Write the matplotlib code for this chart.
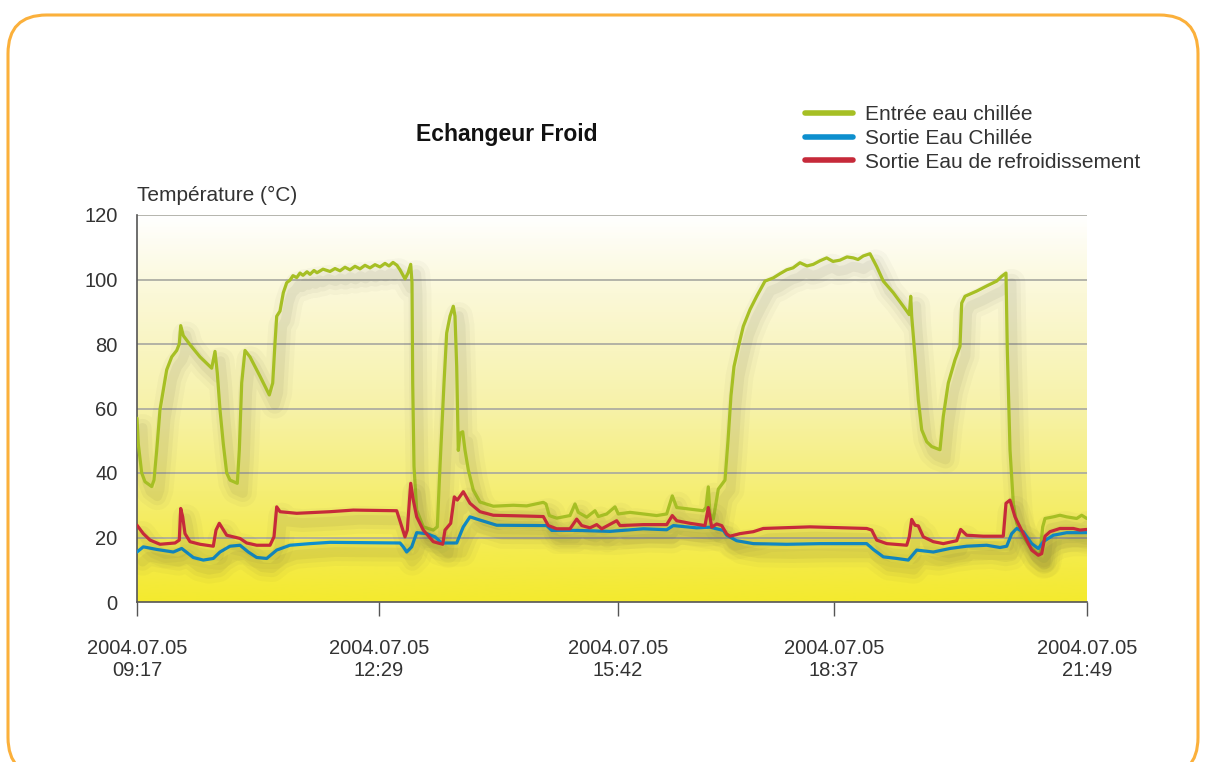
import matplotlib
matplotlib.use("Agg")
import matplotlib.pyplot as plt
import numpy as np
from matplotlib.colors import LinearSegmentedColormap
from matplotlib.patches import FancyBboxPatch
from matplotlib import patheffects as pe

plt.rcParams["font.family"] = ["Liberation Sans", "DejaVu Sans"]

# x positions are sample positions along the time axis (0 = 09:17, 950 = 21:49)
tick_pos = [0, 242, 481, 697, 950]
tick_labels = ["2004.07.05\n09:17", "2004.07.05\n12:29", "2004.07.05\n15:42",
               "2004.07.05\n18:37", "2004.07.05\n21:49"]

entree_x = [0, 1.3, 4.7, 8, 14.7, 17, 19.7, 23, 26.3, 29.7, 34.7, 39.7, 42.3, 43.7,
            46.3, 53, 63, 74.7, 78, 80.3, 83, 86.3, 89.7, 93, 100.3, 102.3, 104.7,
            108, 113, 123, 132.3, 135.7, 138, 139.7, 143, 146.3, 149.7, 153, 156,
            159.7, 163, 166, 170, 173, 177, 180, 186, 193, 198, 203, 208, 213, 218,
            223, 228, 233, 238, 243, 248, 252, 256, 260, 263, 268, 271, 273.7, 275,
            275.7, 277, 279.7, 286.3, 296.3, 300.3, 303, 307, 309.7, 313, 316.3, 318,
            319.7, 321.3, 323, 325.7, 328, 331.3, 336.3, 343, 356.3, 376.3, 389.7,
            406.3, 409, 412.3, 419.7, 433, 438, 441.3, 449.7, 458, 461.3, 469.7, 478,
            481.3, 493, 506.3, 519.7, 529.7, 535.3, 539.7, 553, 566.3, 569, 571.3,
            573, 576.3, 581.3, 588, 591, 594, 597, 601.3, 606.3, 613, 619.7, 628,
            636.3, 643, 649.7, 656, 663, 670, 676.3, 683, 689.7, 696, 703, 710, 716.3,
            721, 726.3, 733, 739.7, 746.3, 756.3, 766.3, 772.3, 773.7, 774.7, 778,
            781.3, 784.7, 789.7, 794.7, 803, 806.3, 811.3, 818, 823, 824.7, 828,
            839.7, 849.7, 859.7, 864.7, 869, 870.3, 873, 876.3, 879.7, 886.3, 893,
            899.7, 903, 905.7, 908, 916.3, 923, 929.7, 939.7, 944.7, 949.7]
entree_y = [57, 49, 40, 37.3, 35.8, 37.8, 47, 59.6, 65.8, 72, 76, 78, 80, 85.7,
            82.6, 79.8, 76, 72.5, 77.7, 71, 59.6, 49, 40, 37.8, 36.8, 47, 67.9,
            78, 76, 70, 64.2, 67.9, 80.3, 88.6, 90.2, 95.9, 99, 99.8, 101.2,
            100.6, 102, 101.3, 102.4, 101.6, 102.8, 102.1, 103.2, 102.5, 103.4,
            102.7, 103.8, 103, 104.1, 103.3, 104.4, 103.6, 104.6, 103.9, 105, 104.2,
            105.3, 104.4, 103, 100.2, 102, 104.7, 99,
            67.9, 42, 28.5, 23.3, 22.3, 23.3, 42, 67.9, 83.4, 88.6, 91.7, 88.6,
            73, 47, 52.3, 52.8, 47.1, 41, 34.7, 31, 29.7, 30, 29.8,
            30.9, 30.4, 26.8, 26, 26.8, 30.4, 27.8, 26.3, 28.3, 26.5, 27.3, 29.5,
            27.3, 27.8, 27.3, 26.8, 27.3, 32.9, 29.3, 28.8, 28.3, 29.3, 35.7,
            27.3, 25.7, 35, 37.8, 50, 64, 73, 79, 85.5, 90.7, 94.8, 99.5,
            100.5, 101.8, 103, 103.6, 105.2, 104.2, 104.7, 105.8, 106.7, 105.6, 106, 107, 106.7,
            106.2, 107.3, 108, 104, 99.5, 95.9, 91.7, 89.1, 94.8, 88.6, 76.2,
            62.7, 53.4, 49.7, 48.2, 47.2, 57.5, 67.9, 75.1, 79.3, 92.7, 94.8,
            96.4, 98, 99.5, 101, 102, 78.2, 47.2, 30.6, 24.4, 20.2, 17.1,
            15, 14.8, 23.3, 25.9, 26.4, 26.9, 26.4, 25.9, 26.9, 25.9]

sortie_x = [0, 6.3, 19.7, 36.3, 44.7, 56.3, 66.3, 76.3, 83, 93, 103, 111.3, 119.7,
            129.7, 139.7, 153, 173, 193, 263, 266.3, 269.7, 274.7, 279.7, 289.7, 298,
            304.7, 319.7, 326.3, 333, 343, 359.7, 409.7, 414.7, 439.7, 473, 506.3,
            529.7, 536.3, 559.7, 573, 586.3, 589.7, 599.7, 616.3, 649.7, 683, 729.7,
            736.3, 746.3, 759.7, 771.3, 779.7, 796.3, 813, 829.7, 849.7, 863, 869.7,
            874.7, 879.7, 886.3, 894.7, 901.3, 906.3, 916.3, 929.7, 949.7]
sortie_y = [15.5, 17.1, 16.3, 15.5, 16.6, 13.8, 13, 13.5, 15.5, 17.3, 17.6, 15.5, 13.8,
            13.5, 16.1, 17.6, 18.1, 18.5, 18.3, 17.1, 15.5, 17.1, 21.5, 21.2, 20.2,
            18.3, 18.3, 23.3, 26.4, 25.4, 23.8, 23.7, 22.2, 22.2, 21.9, 22.7,
            22.4, 23.7, 23, 23.2, 22.2, 20.7, 19, 18.1, 17.9, 18.1, 18.1,
            16.3, 14, 13.5, 13, 16.1, 15.5, 16.6, 17.3, 17.6, 16.9, 17.3,
            21.2, 22.8, 21.8, 18.1, 16.6, 18.7, 20.7, 21.5, 21.5]

refroid_x = [0, 6.3, 13, 23, 38, 42.3, 43.7, 45.7, 48, 53, 63, 76.3, 79, 82.3, 89.7,
             103, 109.7, 119.7, 133, 137, 139.7, 143, 159.7, 193, 216.3, 259.7, 263.7,
             268, 270.3, 273.7, 276.3, 279.7, 286.3, 296.3, 305.7, 308, 313.7, 317.3,
             320.3, 326.3, 333, 343, 356.3, 383, 406.3, 411.3, 419.7, 433, 439.7,
             444.7, 453, 459.7, 464.7, 479.7, 483, 506.3, 529.7, 535.3, 539.7, 553,
             568, 571.3, 574.7, 579.7, 584.7, 589.7, 593, 603, 616.3, 626.3, 673,
             729.7, 734.7, 739.7, 749.7, 769.7, 772.3, 774.7, 778, 781.3, 786.3, 796.3,
             806.3, 819.7, 823.7, 829.7, 846.3, 866.3, 869, 873, 878, 886.3, 894.7,
             901.3, 904.7, 908, 913, 923, 936.3, 943, 949.7]
refroid_y = [23.8, 21.2, 19.2, 17.9, 18.3, 19.2, 29, 26.4, 21.2, 18.7, 17.9, 17.3, 22.3,
             24.4, 20.7, 19.7, 18.3, 17.6, 17.6, 20.2, 29.5, 28, 27.5, 28, 28.5, 28.3,
             24.4, 20.2, 22.3, 36.8, 31.6, 26.4, 22.3, 18.7, 17.9, 22.3, 24.4, 32.6,
             31.6, 34.2, 30.6, 28, 26.9, 26.7, 26.5, 23.7, 22.7, 22.7, 25.7, 23.7,
             23, 24, 22.7, 25.2, 23.7, 24, 24, 26.8, 25.2, 24.4, 23.7, 29.3, 23.2,
             24.2, 23.7, 21.1, 20.4, 21.2, 21.8, 22.8, 23.3, 22.8, 22.3, 19.2, 18.1,
             17.6, 20.2, 25.6, 23.8, 23.6, 20.2, 18.7, 18.1, 19, 22.5, 20.7, 20.4,
             20.4, 30.6, 31.6, 26.4, 21.2, 16.1, 14.5, 15, 20.4, 21.8, 22.8, 22.8,
             22.3, 22.5]

series = [
    ("Entrée eau chillée", entree_x, entree_y, "#a6bf24"),
    ("Sortie Eau Chillée", sortie_x, sortie_y, "#0d8fce"),
    ("Sortie Eau de refroidissement", refroid_x, refroid_y, "#c62a3a"),
]

fig = plt.figure(figsize=(12.06, 7.62), dpi=100)
fig.patch.set_facecolor("white")

# rounded orange frame
frame = FancyBboxPatch((8 / 1206, -14 / 762), 1190 / 1206, 761 / 762,
                       boxstyle="round,pad=0,rounding_size=0.032",
                       transform=fig.transFigure, facecolor="none",
                       edgecolor="#fbb03b", linewidth=2.2, mutation_aspect=1206 / 762)
fig.add_artist(frame)

ax = fig.add_axes([137 / 1206, 160 / 762, 950 / 1206, 387 / 762])

grad = LinearSegmentedColormap.from_list(
    "bg", [(0.0, "#f4ea2e"), (0.18, "#f4ec5a"), (0.5, "#f7f2a8"), (0.8, "#fbf8d8"), (1.0, "#ffffff")])
ax.imshow(np.linspace(0, 1, 256).reshape(-1, 1), cmap=grad, origin="lower",
          extent=[0, 950, 0, 120], aspect="auto", zorder=0)

for v in [20, 40, 60, 80, 100, 120]:
    ax.axhline(v, color="#a8a8a0", linewidth=1.2, zorder=1)

shadow = [
    pe.SimpleLineShadow(offset=(4, -7), shadow_color="#404030", alpha=0.03, linewidth=20),
    pe.SimpleLineShadow(offset=(4, -7), shadow_color="#404030", alpha=0.045, linewidth=13),
    pe.SimpleLineShadow(offset=(4, -7), shadow_color="#404030", alpha=0.06, linewidth=7),
    pe.Normal(),
]
for name, xs, ys, color in series:
    ax.plot(xs, ys, color=color, linewidth=2.3, label=name, zorder=3,
            path_effects=shadow, solid_joinstyle="round", solid_capstyle="round")

ax.set_xlim(0, 950)
ax.set_ylim(0, 120)
ax.set_yticks([0, 20, 40, 60, 80, 100, 120])
ax.set_xticks(tick_pos)
ax.set_xticklabels(tick_labels)
ax.tick_params(axis="y", length=0, pad=14, labelsize=14.5, labelcolor="#333333")
ax.tick_params(axis="x", length=10, width=1, color="#555555", pad=17,
               labelsize=14.5, labelcolor="#333333")
for side in ["top", "right"]:
    ax.spines[side].set_visible(False)
for side in ["left", "bottom"]:
    ax.spines[side].set_color("#555555")
    ax.spines[side].set_linewidth(1.2)
ax.spines["bottom"].set_zorder(4)

fig.text(507 / 1206, 1 - 135 / 762, "Echangeur Froid", ha="center", va="center",
         fontsize=16.5, fontweight="bold", color="#111111")
fig.text(137 / 1206, 1 - 195 / 762, "Température (°C)", ha="left", va="center",
         fontsize=15, color="#333333")

leg = fig.legend(loc="upper left", bbox_to_anchor=(797 / 1206, 1 - 97 / 762),
                 frameon=False, fontsize=15, handlelength=2.3, handletextpad=0.55,
                 labelspacing=0.22, borderaxespad=0)
for line in leg.get_lines():
    line.set_linewidth(4)
    line.set_path_effects([])
    line.set_solid_capstyle("round")
for t in leg.get_texts():
    t.set_color("#333333")

fig.savefig("out.png", dpi=100)
